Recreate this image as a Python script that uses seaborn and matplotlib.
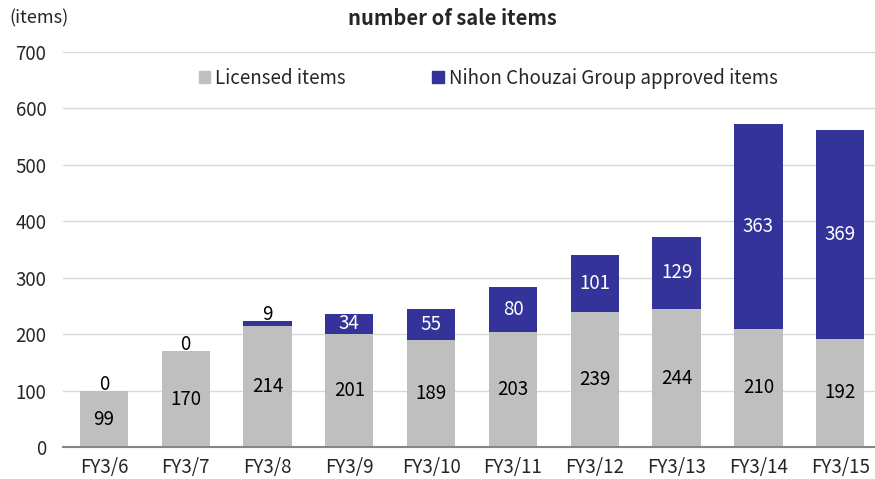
import numpy as np
import pandas as pd
import seaborn as sns
import matplotlib.pyplot as plt
from matplotlib.patches import Patch

# data
years = ["FY3/6", "FY3/7", "FY3/8", "FY3/9", "FY3/10", "FY3/11", "FY3/12", "FY3/13", "FY3/14", "FY3/15"]
licensed = [99, 170, 214, 201, 189, 203, 239, 244, 210, 192]
approved = [0, 0, 9, 34, 55, 80, 101, 129, 363, 369]

gray = "#BFBFBF"
blue = "#333399"
fs = 13.5

sns.set_style("white")
plt.rcParams['font.family'] = ['Noto Sans CJK JP', 'DejaVu Sans']

df = pd.DataFrame({"year": years, "licensed": licensed, "approved": approved})

fig = plt.figure(figsize=(8.75, 4.79), dpi=100)
ax = fig.add_axes([0.072, 0.0668, 0.935, 0.8246])

sns.barplot(data=df, x="year", y="licensed", color=gray, width=0.59, saturation=1,
            linewidth=0, ax=ax)
sns.barplot(data=df, x="year", y="approved", color=blue, width=0.59, saturation=1,
            linewidth=0, bottom=df["licensed"], ax=ax)

ax.set_xlim(-0.5, 9.5)
ax.set_ylim(0, 700)
ax.set_yticks(range(0, 701, 100))
ax.yaxis.grid(True, color="#D9D9D9", lw=1)
ax.set_axisbelow(True)
ax.set_xlabel("")
ax.set_ylabel("")
for s in ["top", "right", "left"]:
    ax.spines[s].set_visible(False)
ax.spines["bottom"].set_color("#868686")
ax.spines["bottom"].set_linewidth(1.5)

# ticks between categories
ax.set_xticks(np.arange(-0.5, 10, 1), minor=True)
ax.tick_params(axis="x", which="minor", length=5, width=1.5, color="#868686", direction="out")
ax.tick_params(axis="x", which="major", length=0, labelsize=fs, pad=7)
ax.tick_params(axis="y", length=0, labelsize=fs, pad=12)

# value labels
for i in range(len(years)):
    ax.text(i, licensed[i] / 2, str(licensed[i]), ha="center", va="center", fontsize=fs, color="black")
    a = approved[i]
    if a < 30:
        ax.text(i, licensed[i] + a + 11, str(a), ha="center", va="center", fontsize=fs, color="black")
    else:
        ax.text(i, licensed[i] + a / 2, str(a), ha="center", va="center", fontsize=fs, color="white")

handles = [Patch(color=gray, label="Licensed items"),
           Patch(color=blue, label="Nihon Chouzai Group approved items")]
ax.legend(handles=handles, loc="center left", bbox_to_anchor=(0.145, 0.933), ncol=2, frameon=False,
          fontsize=fs, handlelength=0.6, handleheight=0.6, handletextpad=0.3, columnspacing=4.6)

fig.text(0.517, 0.962, "number of sale items", ha="center", va="center", fontsize=14.5, fontweight="bold")
fig.text(0.011, 0.962, "(items)", ha="left", va="center", fontsize=13)

plt.savefig("out.png", dpi=100)
